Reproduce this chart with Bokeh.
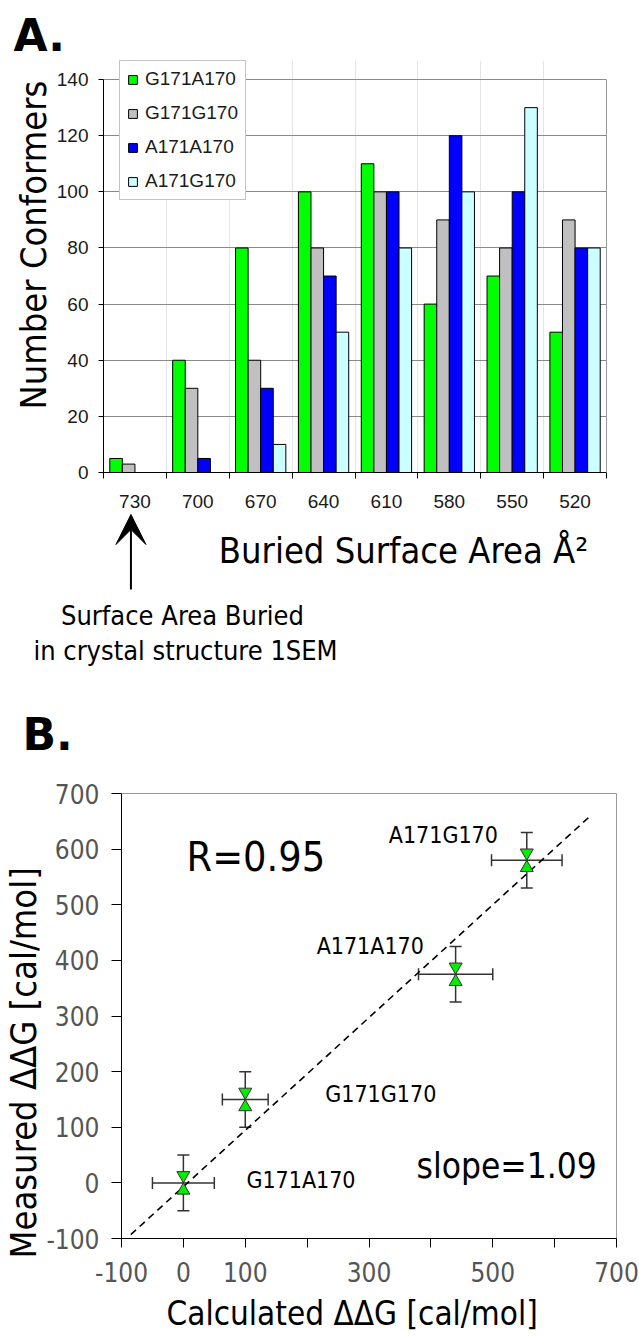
import math
import numpy as np
from bokeh.plotting import figure
from bokeh.models import (ColumnDataSource, Range1d, LinearAxis, Title,
                          FixedTicker, SingleIntervalTicker, Label, Arrow, VeeHead, Whisker,
                          TeeHead, Legend, CustomJSTickFormatter)
from bokeh.transform import dodge
from bokeh.layouts import column
from bokeh.embed import file_html
from bokeh.resources import INLINE
from bokeh.core.properties import value

# ---------------- data : panel A ----------------
categories = ["730", "700", "670", "640", "610", "580", "550", "520"]
series_names = ["G171A170", "G171G170", "A171A170", "A171G170"]
g171a170 = [5, 40, 80, 100, 110, 60, 70, 50]
g171g170 = [3, 30, 40, 80, 100, 90, 80, 90]
a171a170 = [0, 5, 30, 70, 100, 120, 100, 80]
a171g170 = [0, 0, 10, 50, 80, 100, 130, 80]
bar_colors = ["#00ff00", "#c0c0c0", "#0000ff", "#ccffff"]
y_max_a = 140

# ---------------- data : panel B ----------------
point_names = ["G171A170", "G171G170", "A171A170", "A171G170"]
calc_dg = [0, 100, 440, 555]
calc_err = [50, 37, 60, 57]
meas_dg = [0, 150, 375, 580]
meas_err = [50, 50, 50, 50]
fit_x = [-85, 660]
fit_y = [-93, 662]
xticks_b = [-100, 0, 100, 300, 500, 700]
xminor_b = [200, 400, 600]
yticks_b = [-100, 0, 100, 200, 300, 400, 500, 600, 700]

COND = "DejaVu Sans Condensed"
ARIAL = "Liberation Sans"

W = 639
A_LEFT, A_RIGHT, A_TOP, A_BOTTOM = 103, 33, 60, 41
A_H = 513
H_H = 247
B_H = 580


def no_frame_align(p):
    if "frame_align" in p.properties():
        p.frame_align = False


# ================= Panel A =================
n_cat = len(categories)
centers = [i + 0.5 for i in range(n_cat)]   # category slot centres
edges = list(range(n_cat + 1))              # category slot boundaries
headroom = 6.8                              # frame space above the 140 line (for the legend)

pA = figure(width=W, height=A_H,
            x_range=Range1d(0, n_cat), y_range=Range1d(0, y_max_a + headroom),
            x_axis_location=None, y_axis_location="left",
            toolbar_location=None, output_backend="svg",
            min_border_left=A_LEFT, min_border_right=A_RIGHT,
            min_border_top=A_TOP, min_border_bottom=A_BOTTOM)
no_frame_align(pA)
pA.outline_line_color = None

pA.yaxis.ticker = SingleIntervalTicker(interval=20)
pA.yaxis.bounds = (0, y_max_a)
pA.ygrid.ticker = SingleIntervalTicker(interval=20)
pA.ygrid.grid_line_color = "#8a8a8a"
pA.yaxis.major_tick_out = 5
pA.yaxis.major_tick_in = 0
pA.yaxis.minor_tick_line_color = None
pA.yaxis.axis_line_color = "black"
pA.yaxis.major_tick_line_color = "black"
pA.yaxis.major_label_text_font = ARIAL
pA.yaxis.major_label_text_font_size = "19px"
pA.yaxis.major_label_text_color = "#1a1a1a"
pA.yaxis.major_label_standoff = 10

# right border of the plot area
pA.add_layout(LinearAxis(ticker=FixedTicker(ticks=[]), bounds=(0, y_max_a),
                         axis_line_color="#9a9a9a", major_tick_line_color=None,
                         minor_tick_line_color=None,
                         major_label_text_font_size="1px"), "right")

# boundary ticks (Excel style: ticks between the categories)
edge_axis = LinearAxis(ticker=FixedTicker(ticks=edges),
                       formatter=CustomJSTickFormatter(code="return ''"),
                       major_tick_out=6, major_tick_in=0,
                       minor_tick_line_color=None,
                       major_label_text_font_size="1px",
                       major_label_standoff=0,
                       axis_line_color="black", major_tick_line_color="black")
pA.add_layout(edge_axis, "below")

# category labels centred in their slots
cat_axis = LinearAxis(ticker=FixedTicker(ticks=centers),
                      formatter=CustomJSTickFormatter(args=dict(cats=categories),
                                                      code="return cats[Math.floor(tick)]"),
                      major_tick_line_color=None, minor_tick_line_color=None,
                      axis_line_color=None,
                      major_label_standoff=10,
                      major_label_text_font=ARIAL,
                      major_label_text_font_size="19px",
                      major_label_text_color="#1a1a1a")
pA.add_layout(cat_axis, "below")

srcA = ColumnDataSource(dict(xc=centers, cat=categories, s0=g171a170, s1=g171g170,
                             s2=a171a170, s3=a171g170))
offsets = [-0.3, -0.1, 0.1, 0.3]
items = []
for i, (name, col, off) in enumerate(zip(series_names, bar_colors, offsets)):
    r = pA.vbar(x=dodge("xc", off), top="s%d" % i, width=0.2,
                source=srcA, fill_color=col, line_color="black", line_width=1)
    items.append((name, [r]))

legend = Legend(items=items, location=(16, 272), margin=0, padding=7, spacing=12,
                glyph_width=11, glyph_height=11, label_height=22, label_standoff=7,
                label_text_font=ARIAL, label_text_font_size="19px",
                label_text_color="#1a1a1a",
                border_line_color="#8a8a8a", border_line_width=1,
                background_fill_color="white", background_fill_alpha=1.0)
pA.add_layout(legend)

pA.add_layout(Title(text="A.", align="left", offset=-90, standoff=0,
                    text_font="DejaVu Sans", text_font_style="bold",
                    text_font_size="44px", text_color="black"), "above")
pA.add_layout(Title(text="Number Conformers", align="left", offset=63, standoff=0,
                    text_font=COND, text_font_size="36px", text_font_style="normal",
                    text_color="black"), "left")

# ---- strip between the panels (pixel coordinates): axis title, arrow, note, "B." ----
pH = figure(width=W, height=H_H, x_range=Range1d(0, W), y_range=Range1d(-H_H, 0),
            x_axis_location=None, y_axis_location=None,
            toolbar_location=None, output_backend="svg",
            min_border_left=0, min_border_right=0, min_border_top=0,
            min_border_bottom=0)
no_frame_align(pH)
pH.outline_line_color = None
pH.grid.visible = False

frame_w_a = W - A_LEFT - A_RIGHT
arrow_x = A_LEFT + centers[categories.index("730")] / n_cat * frame_w_a - 4
pH.add_layout(Arrow(x_start=arrow_x, y_start=-76, x_end=arrow_x, y_end=-1,
                    line_color="black", line_width=2,
                    end=VeeHead(size=30, fill_color="black", line_color="black")))
pH.add_layout(Label(x=403, y=-37, text="Buried Surface Area Å²",
                    text_font=COND, text_font_size="36px", text_color="black",
                    text_align="center", text_baseline="middle"))
pH.add_layout(Label(x=182, y=-102, text="Surface Area Buried",
                    text_font=COND, text_font_size="27px", text_color="black",
                    text_align="center", text_baseline="middle"))
pH.add_layout(Label(x=185, y=-137, text="in crystal structure 1SEM",
                    text_font=COND, text_font_size="27px", text_color="black",
                    text_align="center", text_baseline="middle"))
pH.add_layout(Label(x=22, y=-221, text="B.",
                    text_font="DejaVu Sans", text_font_style="bold",
                    text_font_size="44px", text_color="black",
                    text_align="left", text_baseline="middle"))

# ================= Panel B =================
pB = figure(width=W, height=B_H,
            x_range=Range1d(-100, 700), y_range=Range1d(-100, 700),
            toolbar_location=None, output_backend="svg",
            min_border_left=120, min_border_right=23,
            min_border_top=33, min_border_bottom=101)
no_frame_align(pB)
pB.outline_line_color = "#9a9a9a"
pB.grid.visible = False

pB.xaxis.ticker = FixedTicker(ticks=xticks_b, minor_ticks=xminor_b)
pB.xaxis.formatter = CustomJSTickFormatter(code="return tick.toFixed(0)")
pB.xaxis.major_tick_out = 9
pB.xaxis.major_tick_in = 0
pB.xaxis.minor_tick_out = 9
pB.xaxis.minor_tick_in = 0
pB.xaxis.minor_tick_line_color = "black"
pB.xaxis.major_label_standoff = 14
pB.yaxis.ticker = FixedTicker(ticks=yticks_b)
pB.yaxis.formatter = CustomJSTickFormatter(code="return tick.toFixed(0)")
pB.yaxis.major_tick_out = 10
pB.yaxis.major_tick_in = 0
pB.yaxis.minor_tick_line_color = None
pB.yaxis.major_label_standoff = 12
for ax in (pB.xaxis, pB.yaxis):
    ax.axis_line_color = "black"
    ax.major_tick_line_color = "black"
    ax.major_label_text_font = COND
    ax.major_label_text_font_size = "26px"
    ax.major_label_text_color = "#555555"

pB.add_layout(Title(text="Measured ΔΔG [cal/mol]", align="left", offset=-20, standoff=0,
                    text_font=COND, text_font_size="36px", text_font_style="normal",
                    text_color="black"), "left")
pB.add_layout(Title(text="Calculated ΔΔG [cal/mol]", align="left", offset=45,
                    standoff=15, text_font=COND, text_font_size="33px",
                    text_font_style="normal", text_color="black"), "below")

label_dx = [63, 80, -139, -138]
label_dy = [-3, -5, -28, -25]

srcB = ColumnDataSource(dict(
    x=calc_dg, y=meas_dg, name=point_names,
    xl=np.array(calc_dg) - np.array(calc_err), xu=np.array(calc_dg) + np.array(calc_err),
    yl=np.array(meas_dg) - np.array(meas_err), yu=np.array(meas_dg) + np.array(meas_err),
    dx=label_dx, dy=label_dy))

pB.line(fit_x, fit_y, line_color="black", line_width=1.6, line_dash="7 5")

pB.add_layout(Whisker(source=srcB, base="x", lower="yl", upper="yu", dimension="height",
                      line_color="#333333", line_width=1.5, level="underlay",
                      lower_head=TeeHead(size=12, line_color="#333333", line_width=1.5),
                      upper_head=TeeHead(size=12, line_color="#333333", line_width=1.5)))
pB.add_layout(Whisker(source=srcB, base="y", lower="xl", upper="xu", dimension="width",
                      line_color="#333333", line_width=1.5, level="underlay",
                      lower_head=TeeHead(size=12, line_color="#333333", line_width=1.5),
                      upper_head=TeeHead(size=12, line_color="#333333", line_width=1.5)))

tri_shift = 13.5
pB.scatter(x="x", y=dodge("y", tri_shift), source=srcB, marker="inverted_triangle",
           size=13, fill_color="#00ee00", line_color="#333333", line_width=1)
pB.scatter(x="x", y=dodge("y", -tri_shift), source=srcB, marker="triangle",
           size=13, fill_color="#00ee00", line_color="#333333", line_width=1)

pB.text(x="x", y="y", text="name", x_offset="dx", y_offset="dy", source=srcB,
        text_font=value(COND), text_font_size="23px", text_color="black",
        text_align="left", text_baseline="middle")

pB.add_layout(Label(x=65, y=382, x_units="screen", y_units="screen", text="R=0.95",
                    text_font=COND, text_font_size="41px", text_color="black",
                    text_align="left", text_baseline="middle"))
pB.add_layout(Label(x=295, y=73, x_units="screen", y_units="screen", text="slope=1.09",
                    text_font=COND, text_font_size="35px", text_color="black",
                    text_align="left", text_baseline="middle"))

layout = column(pA, pH, pB, spacing=0)
open("out.html", "w").write(file_html(layout, INLINE))
